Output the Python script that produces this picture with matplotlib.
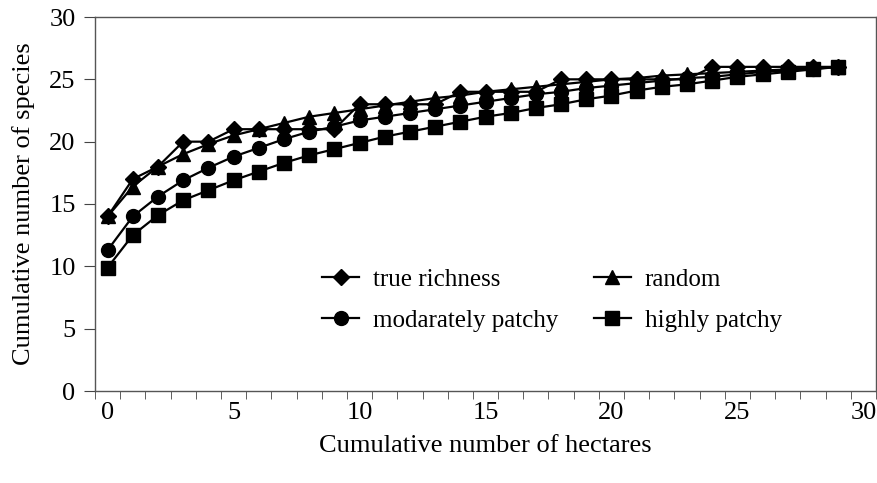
import matplotlib
matplotlib.use("Agg")
import matplotlib.pyplot as plt
import numpy as np
from matplotlib.ticker import FixedLocator

hectares = list(range(30))
true_richness = [14, 17, 18, 20, 20, 21, 21, 21, 21, 21, 23, 23, 23, 23, 24, 24, 24, 24, 25, 25,
                 25, 25, 25, 25, 26, 26, 26, 26, 26, 26]
random_s = [14, 16.4, 18, 19, 19.8, 20.5, 21, 21.5, 22, 22.3, 22.6, 22.9, 23.2, 23.5, 23.7, 24,
            24.2, 24.4, 24.6, 24.8, 25, 25.1, 25.3, 25.4, 25.5, 25.6, 25.7, 25.8, 25.9, 26]
moderately_patchy = [11.3, 14, 15.6, 16.9, 17.9, 18.8, 19.5, 20.2, 20.8, 21.2, 21.7, 22, 22.3,
                     22.6, 22.9, 23.2, 23.5, 23.8, 24.0, 24.3, 24.5, 24.7, 24.9, 25.1, 25.2, 25.4,
                     25.6, 25.7, 25.85, 26]
highly_patchy = [9.9, 12.5, 14.1, 15.3, 16.1, 16.9, 17.6, 18.3, 18.9, 19.4, 19.9, 20.4, 20.8, 21.2,
                 21.6, 22.0, 22.3, 22.7, 23.0, 23.4, 23.7, 24.1, 24.4, 24.6, 24.9, 25.2, 25.4, 25.6,
                 25.8, 26]
labels = ["true richness", "random", "modarately patchy", "highly patchy"]
x_ticks = [0, 5, 10, 15, 20, 25, 30]
y_ticks = [0, 5, 10, 15, 20, 25, 30]

plt.rcParams['font.family'] = ['Liberation Serif', 'DejaVu Serif']

fig = plt.figure(figsize=(8.77, 4.83), dpi=100)
ax = fig.add_axes([95/877, 1-391/483, 781/877, 374/483])

kw = dict(color='black', linewidth=1.6)
h1, = ax.plot(hectares, true_richness, marker='D', markersize=8.5, label=labels[0], **kw)
h2, = ax.plot(hectares, random_s, marker='^', markersize=10, label=labels[1], **kw)
h3, = ax.plot(hectares, moderately_patchy, marker='o', markersize=10, label=labels[2], **kw)
h4, = ax.plot(hectares, highly_patchy, marker='s', markersize=9.5, label=labels[3], **kw)

ax.set_xlim(-0.5, 30.5)
ax.set_ylim(0, 30)
ax.set_xticks(x_ticks)
ax.xaxis.set_minor_locator(FixedLocator(np.arange(-0.5, 31, 1)))
ax.set_yticks(y_ticks)
ax.tick_params(axis='x', which='major', length=0, labelsize=19, pad=8)
ax.tick_params(axis='x', which='minor', length=6, direction='out', color='#444444')
ax.tick_params(axis='y', which='major', length=8, direction='out', labelsize=19, pad=6, color='#444444')
for s in ax.spines.values():
    s.set_color('#555555')
    s.set_linewidth(1.0)

ax.set_xlabel("Cumulative number of hectares", fontsize=19, labelpad=8)
ax.set_ylabel("Cumulative number of species", fontsize=19, labelpad=10)

leg = ax.legend(handles=[h1, h3, h2, h4], ncol=2, frameon=False, fontsize=18,
                loc='center', bbox_to_anchor=(0.585, 0.243), handlelength=1.5,
                handletextpad=0.55, columnspacing=1.4, labelspacing=0.72)

fig.savefig("out.png", dpi=100)
